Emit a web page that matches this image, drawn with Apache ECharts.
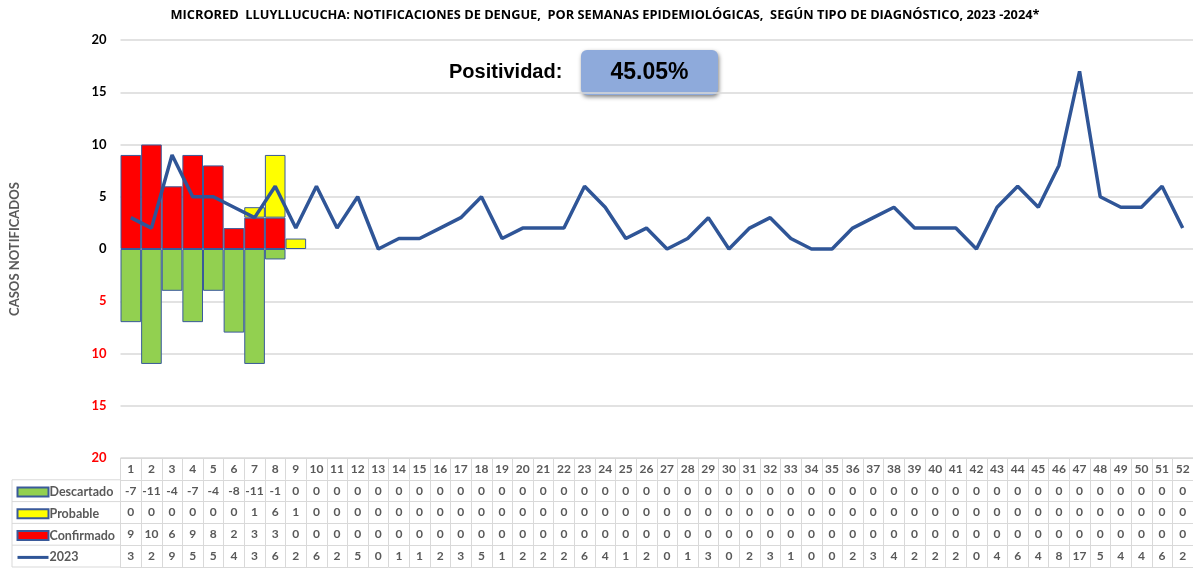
<!DOCTYPE html>
<html>
<head>
<meta charset="utf-8">
<script src="https://cdn.jsdelivr.net/npm/echarts@6/dist/echarts.min.js"></script>
<style>
  html, body { margin: 0; padding: 0; background: #fff; }
  #chart { width: 1193px; height: 568px; }
</style>
</head>
<body>
<div id="chart"></div>
<script>
// semanas epidemiológicas
const semanas = [];
for (let i = 1; i <= 52; i++) semanas.push(String(i));

const descartado = [-7, -11, -4, -7, -4, -8, -11, -1, 0, 0, 0, 0, 0, 0, 0, 0, 0, 0, 0, 0, 0, 0, 0, 0, 0, 0, 0, 0, 0, 0, 0, 0, 0, 0, 0, 0, 0, 0, 0, 0, 0, 0, 0, 0, 0, 0, 0, 0, 0, 0, 0, 0];
const probable = [0, 0, 0, 0, 0, 0, 1, 6, 1, 0, 0, 0, 0, 0, 0, 0, 0, 0, 0, 0, 0, 0, 0, 0, 0, 0, 0, 0, 0, 0, 0, 0, 0, 0, 0, 0, 0, 0, 0, 0, 0, 0, 0, 0, 0, 0, 0, 0, 0, 0, 0, 0];
const confirmado = [9, 10, 6, 9, 8, 2, 3, 3, 0, 0, 0, 0, 0, 0, 0, 0, 0, 0, 0, 0, 0, 0, 0, 0, 0, 0, 0, 0, 0, 0, 0, 0, 0, 0, 0, 0, 0, 0, 0, 0, 0, 0, 0, 0, 0, 0, 0, 0, 0, 0, 0, 0];
const casos2023 = [3, 2, 9, 5, 5, 4, 3, 6, 2, 6, 2, 5, 0, 1, 1, 2, 3, 5, 1, 2, 2, 2, 6, 4, 1, 2, 0, 1, 3, 0, 2, 3, 1, 0, 0, 2, 3, 4, 2, 2, 2, 0, 4, 6, 4, 8, 17, 5, 4, 4, 6, 2];

const titulo = 'MICRORED  LLUYLLUCUCHA: NOTIFICACIONES DE DENGUE,  POR SEMANAS EPIDEMIOLÓGICAS,  SEGÚN TIPO DE DIAGNÓSTICO, 2023 -2024*';
const positividad = '45.05%';

const chart = echarts.init(document.getElementById('chart'));

const fuente = 'Lato';
const gris = '#595959';
const lineaTabla = '#d9d9d9';
const filaAlto = 21.8;
const borde = '#3a5a9a';

// filas de la tabla de datos debajo del gráfico
const filas = [semanas, descartado, probable, confirmado, casos2023];

const sinCero = arr => arr.map(v => (v === 0 ? '-' : v));

const xAxes = filas.map((fila, k) => ({
  type: 'category',
  data: semanas,
  position: 'bottom',
  offset: k * filaAlto,
  boundaryGap: true,
  axisLine: { show: true, onZero: false, lineStyle: { color: lineaTabla, width: 1 } },
  axisTick: { show: true, length: filaAlto, interval: 0, lineStyle: { color: lineaTabla } },
  axisLabel: {
    interval: 0,
    margin: 5,
    fontFamily: fuente,
    fontWeight: 'bold',
    fontSize: 12,
    color: gris,
    formatter: (v, i) => String(fila[i])
  },
  splitLine: { show: false }
}));
// línea de cierre de la tabla
xAxes.push({
  type: 'category',
  data: semanas,
  position: 'bottom',
  offset: 5 * filaAlto,
  axisLine: { show: true, onZero: false, lineStyle: { color: lineaTabla } },
  axisTick: { show: false },
  axisLabel: { show: false }
});

const yTop = 40, yBottom = 458;

const option = {
  animation: false,
  title: {
    text: titulo,
    left: 600,
    textAlign: 'center',
    top: 4,
    textStyle: { fontFamily: 'Open Sans', fontSize: 12.8, fontWeight: 'bold', color: '#000' }
  },
  grid: { left: 120.5, width: 1075, top: yTop, bottom: 568 - yBottom },
  legend: {
    orient: 'vertical',
    left: 16,
    top: 485,
    padding: 0,
    itemWidth: 31,
    itemHeight: 9,
    itemGap: 7.8,
    height: 90,
    data: [
      { name: 'Descartado', icon: 'rect' },
      { name: 'Probable', icon: 'rect' },
      { name: 'Confirmado', icon: 'rect' },
      { name: '2023', itemStyle: { opacity: 0 }, lineStyle: { width: 3 } }
    ],
    textStyle: { fontFamily: fuente, fontSize: 12.5, fontWeight: 'bold', color: gris, lineHeight: 14, padding: [0, 0, 0, -4] }
  },
  xAxis: xAxes,
  yAxis: {
    type: 'value',
    min: -20,
    max: 20,
    interval: 5,
    name: 'CASOS NOTIFICADOS',
    nameLocation: 'middle',
    nameGap: 99,
    nameTextStyle: { fontFamily: fuente, fontSize: 13, fontWeight: 'bold', color: gris },
    axisLine: { show: false },
    axisTick: { show: false },
    axisLabel: {
      margin: 14,
      formatter: v => (v < 0 ? '{neg|' + Math.abs(v) + '}' : '{pos|' + v + '}'),
      rich: {
        pos: { fontFamily: fuente, fontSize: 13, fontWeight: 'bold', color: '#000' },
        neg: { fontFamily: fuente, fontSize: 13, fontWeight: 'bold', color: '#ff0000' }
      }
    },
    splitLine: { lineStyle: { color: lineaTabla, width: 1.5 } }
  },
  series: [
    {
      name: 'Confirmado', type: 'bar', stack: 'dx', barCategoryGap: 0,
      data: sinCero(confirmado),
      itemStyle: { color: '#ff0000', borderColor: borde, borderWidth: 1 }
    },
    {
      name: 'Probable', type: 'bar', stack: 'dx', barCategoryGap: 0,
      data: sinCero(probable),
      itemStyle: { color: '#ffff00', borderColor: borde, borderWidth: 1 }
    },
    {
      name: 'Descartado', type: 'bar', stack: 'dx', barCategoryGap: 0,
      data: sinCero(descartado),
      itemStyle: { color: '#92d050', borderColor: borde, borderWidth: 1 }
    },
    {
      name: '2023', type: 'line', data: casos2023,
      symbol: 'none', z: 5,
      lineStyle: { color: '#2f5597', width: 3.5 },
      itemStyle: { color: '#2f5597' }
    }
  ],
  graphic: [
    // bordes de la columna de leyenda
    { type: 'line', shape: { x1: 12, y1: yBottom + filaAlto, x2: 12, y2: yBottom + 5 * filaAlto }, style: { stroke: lineaTabla } },
    { type: 'line', shape: { x1: 12, y1: yBottom + filaAlto, x2: 121, y2: yBottom + filaAlto }, style: { stroke: lineaTabla } },
    { type: 'line', shape: { x1: 12, y1: yBottom + 2 * filaAlto, x2: 121, y2: yBottom + 2 * filaAlto }, style: { stroke: lineaTabla } },
    { type: 'line', shape: { x1: 12, y1: yBottom + 3 * filaAlto, x2: 121, y2: yBottom + 3 * filaAlto }, style: { stroke: lineaTabla } },
    { type: 'line', shape: { x1: 12, y1: yBottom + 4 * filaAlto, x2: 121, y2: yBottom + 4 * filaAlto }, style: { stroke: lineaTabla } },
    { type: 'line', shape: { x1: 12, y1: yBottom + 5 * filaAlto, x2: 121, y2: yBottom + 5 * filaAlto }, style: { stroke: lineaTabla } },
    // positividad
    {
      type: 'text', left: 449, top: 62,
      style: { text: 'Positividad:', fontFamily: 'Liberation Sans', fontSize: 20, fontWeight: 'bold', fill: '#000' }
    },
    {
      type: 'rect', shape: { x: 581, y: 50, width: 137, height: 45, r: 6 },
      style: { fill: '#8eaadb', shadowBlur: 4, shadowOffsetX: 1, shadowOffsetY: 2, shadowColor: 'rgba(0,0,0,0.5)' }
    },
    {
      type: 'text', x: 649.5, y: 73,
      style: { text: positividad, fontFamily: 'Liberation Sans', fontSize: 23, fontWeight: 'bold', fill: '#000', align: 'center', verticalAlign: 'middle' }
    }
  ]
};

chart.setOption(option);
</script>
</body>
</html>
